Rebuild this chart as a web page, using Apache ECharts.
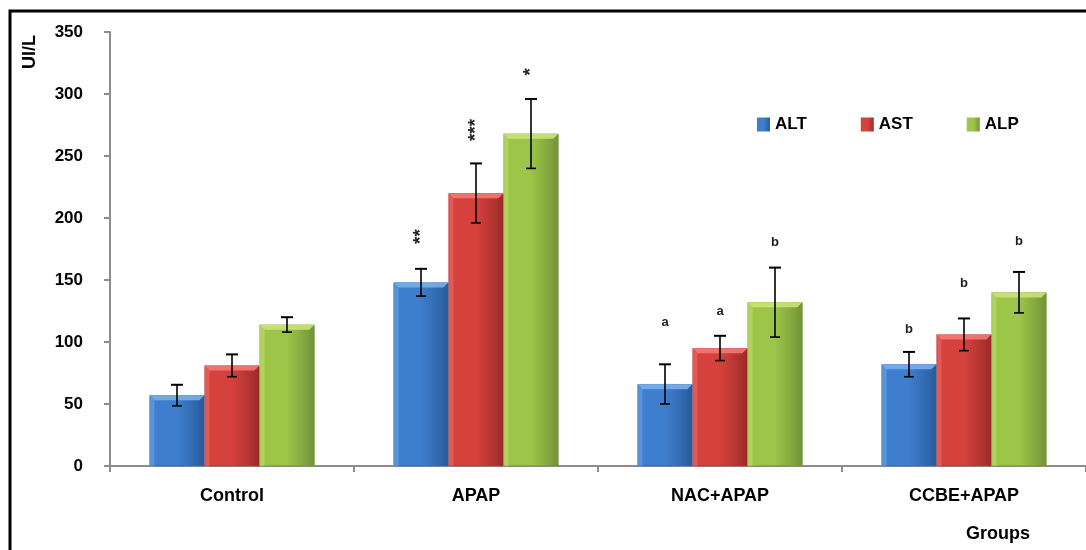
<!DOCTYPE html>
<html>
<head>
<meta charset="utf-8">
<script src="https://cdn.jsdelivr.net/npm/echarts@6/dist/echarts.min.js"></script>
<style>html,body{margin:0;padding:0;background:#fff;}#c{width:1086px;height:550px;}</style>
</head>
<body>
<div id="c"></div>
<script>
// ---- data ----
const categories = ['Control', 'APAP', 'NAC+APAP', 'CCBE+APAP'];
const seriesNames = ['ALT', 'AST', 'ALP'];
const yTicks = [0, 50, 100, 150, 200, 250, 300, 350];

const altMean = [57, 148, 66, 82];
const altErr  = [8.5, 11, 16, 10];
const astMean = [81, 220, 95, 106];
const astErr  = [9, 24, 10, 13];
const alpMean = [114, 268, 132, 140];
const alpErr  = [6, 28, 28, 16.5];

const altSig = ['', '**', 'a', 'b'];
const astSig = ['', '***', 'a', 'b'];
const alpSig = ['', '*', 'b', 'b'];
const altSigAt = [null, 185, 116, 110];
const astSigAt = [null, 271, 125, 147];
const alpSigAt = [null, 318, 180, 181];

// ---- styling ----
const FONT = '"Liberation Sans", Arial, sans-serif';
const BAR_W = 55;
const palette = [
  {base: '#3E7ECE', light: '#78AEEA', dark: '#2A5C9C'},
  {base: '#D5413D', light: '#F27A74', dark: '#9E2C29'},
  {base: '#9DC548', light: '#C8E477', dark: '#74953A'}
];

function barColor(p) {
  return new echarts.graphic.LinearGradient(0, 0, 1, 0, [
    {offset: 0, color: p.base},
    {offset: 0.5, color: p.base},
    {offset: 1, color: p.dark}
  ]);
}

function barSeries(idx, values) {
  return {
    name: seriesNames[idx],
    type: 'bar',
    data: values,
    barWidth: BAR_W,
    barGap: '0%',
    itemStyle: {color: barColor(palette[idx]), borderColor: palette[idx].dark, borderWidth: 0.6},
    z: 2
  };
}

function overlaySeries(idx, mean, err, sig, sigAt) {
  const p = palette[idx];
  return {
    type: 'custom',
    data: categories.map((c, i) => [i, mean[i]]),
    z: 5,
    silent: true,
    renderItem: function (params, api) {
      const i = params.dataIndex;
      const m = mean[i], e = err[i];
      const base = api.coord([i, 0]);
      const top = api.coord([i, m]);
      const cx = base[0] + (idx - 1) * BAR_W;
      const x0 = cx - BAR_W / 2, x1 = cx + BAR_W / 2;
      const yT = top[1], yB = base[1];
      const b = 5;
      const hi = api.coord([i, m + e])[1];
      const lo = api.coord([i, m - e])[1];
      const children = [
        {type: 'polygon', shape: {points: [[x0, yT], [x1, yT], [x1 - b, yT + b], [x0 + b, yT + b]]}, style: {fill: p.light, opacity: 0.9}},
        {type: 'polygon', shape: {points: [[x0, yT], [x0 + b, yT + b], [x0 + b, yB], [x0, yB]]}, style: {fill: p.light, opacity: 0.45}},
        {type: 'polygon', shape: {points: [[x1, yT], [x1, yB], [x1 - b, yB], [x1 - b, yT + b]]}, style: {fill: p.dark, opacity: 0.55}},
        {type: 'line', shape: {x1: cx, y1: hi, x2: cx, y2: lo}, style: {stroke: '#000', lineWidth: 1.6}},
        {type: 'line', shape: {x1: cx - 6, y1: hi, x2: cx + 6, y2: hi}, style: {stroke: '#000', lineWidth: 2}},
        {type: 'line', shape: {x1: cx - 5, y1: lo, x2: cx + 5, y2: lo}, style: {stroke: '#000', lineWidth: 1.6}}
      ];
      if (sig[i]) {
        const sy = api.coord([i, sigAt[i]])[1];
        const isStar = sig[i].indexOf('*') >= 0;
        children.push({
          type: 'text',
          x: cx, y: sy,
          rotation: isStar ? Math.PI / 2 : 0,
          style: {text: sig[i], fill: '#222', font: 'bold ' + (isStar ? 19 : 13) + 'px ' + FONT, align: 'center', verticalAlign: 'middle'}
        });
      }
      return {type: 'group', children: children};
    }
  };
}

const chart = echarts.init(document.getElementById('c'), null, {renderer: 'canvas'});
chart.setOption({
  animation: false,
  backgroundColor: '#fff',
  grid: {left: 110, right: 0, top: 32, bottom: 84, containLabel: false},
  legend: {
    data: seriesNames,
    left: 752, top: 111,
    icon: 'rect', itemWidth: 13, itemHeight: 14, itemGap: 54,
    itemStyle: {borderWidth: 0},
    textStyle: {fontFamily: FONT, fontWeight: 'bold', fontSize: 17, color: '#000', padding: [0, 0, 0, 0]}
  },
  xAxis: {
    type: 'category',
    data: categories,
    axisLine: {lineStyle: {color: '#8c8c8c', width: 2}},
    axisTick: {show: true, length: 6, interval: 0, alignWithLabel: false, lineStyle: {color: '#8c8c8c', width: 2}},
    axisLabel: {fontFamily: FONT, fontWeight: 'bold', fontSize: 18, color: '#000', margin: 21, interval: 0},
    splitLine: {show: false}
  },
  yAxis: {
    type: 'value',
    min: yTicks[0], max: yTicks[yTicks.length - 1], interval: 50,
    axisLine: {show: true, lineStyle: {color: '#8c8c8c', width: 2}},
    axisTick: {show: true, length: 6, lineStyle: {color: '#8c8c8c', width: 2}},
    axisLabel: {fontFamily: FONT, fontWeight: 'bold', fontSize: 17, color: '#000', margin: 27},
    splitLine: {show: false}
  },
  graphic: [
    {type: 'polyline', shape: {points: [[10, 552], [10, 11], [1090, 11]]}, style: {stroke: '#000', lineWidth: 3, fill: null}},
    {type: 'text', x: 30, y: 52, rotation: Math.PI / 2, style: {text: 'UI/L', font: 'bold 18px ' + FONT, fill: '#000', align: 'center', verticalAlign: 'middle'}},
    {type: 'text', left: 966, top: 525, style: {text: 'Groups', font: 'bold 18px ' + FONT, fill: '#000'}}
  ],
  series: [
    barSeries(0, altMean),
    barSeries(1, astMean),
    barSeries(2, alpMean),
    overlaySeries(0, altMean, altErr, altSig, altSigAt),
    overlaySeries(1, astMean, astErr, astSig, astSigAt),
    overlaySeries(2, alpMean, alpErr, alpSig, alpSigAt)
  ]
});
</script>
</body>
</html>
